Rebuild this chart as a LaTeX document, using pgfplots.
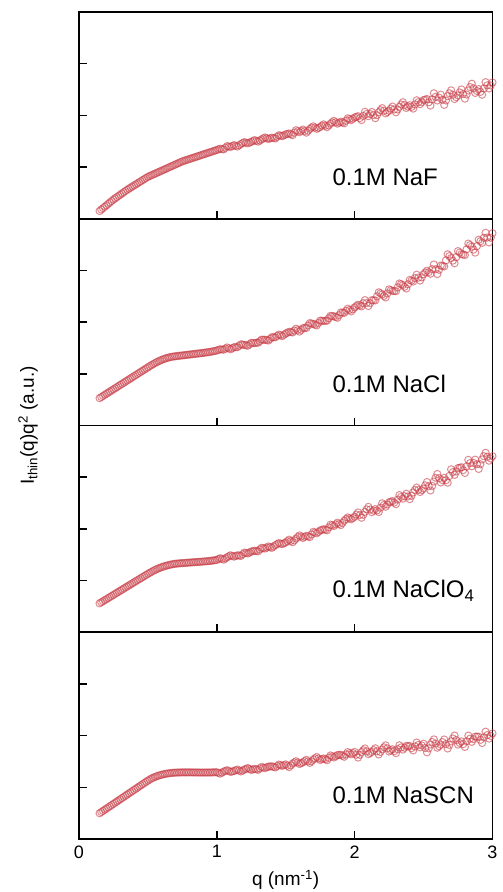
\documentclass[border=0pt]{standalone}
\usepackage{fontspec}
\setmainfont{Liberation Sans}
\usepackage{pgfplots}
\pgfplotsset{compat=1.18}
\usepgfplotslibrary{groupplots}
\usetikzlibrary{calc}

\definecolor{datared}{RGB}{200,62,72}
\pgfplotsset{scatt/.style={only marks, mark=o, mark size=3.6pt, color=datared,
    mark options={line width=1.0pt, draw opacity=0.6}}}

\begin{document}
\begin{tikzpicture}
\begin{groupplot}[
    group style={group size=1 by 4, vertical sep=0pt,
        xticklabels at=edge bottom},
    scale only axis,
    width=414pt, height=207pt,
    xmin=0, xmax=3, ymin=0, ymax=4,
    xtick={0,1,2,3}, ytick={1,2,3}, yticklabels={},
    xtick pos=bottom, ytick pos=left, tick align=inside,
    major tick length=8pt,
    axis line style={line width=1.6pt},
    every tick/.style={line width=1.5pt, black},
    /pgf/number format/assume math mode=true,
    ticklabel style={font=\fontsize{18}{20}\selectfont},
    xticklabel style={yshift=-3pt},
]

% 0.1M NaF
\nextgroupplot
\addplot[scatt] coordinates {
(0.150,0.150) (0.175,0.205) (0.200,0.260) (0.225,0.315) (0.250,0.370)
(0.275,0.418) (0.300,0.465) (0.325,0.513) (0.350,0.560) (0.375,0.602)
(0.400,0.643) (0.425,0.685) (0.450,0.727) (0.475,0.768) (0.500,0.810)
(0.525,0.840) (0.550,0.870) (0.575,0.900) (0.600,0.930) (0.625,0.960)
(0.650,0.990) (0.675,1.020) (0.700,1.050) (0.725,1.080) (0.750,1.110)
(0.775,1.132) (0.800,1.154) (0.825,1.176) (0.850,1.198) (0.875,1.220)
(0.900,1.242) (0.925,1.264) (0.950,1.286) (0.975,1.308) (1.000,1.330)
(1.025,1.355) (1.050,1.341) (1.075,1.405) (1.100,1.388) (1.125,1.425)
(1.150,1.396) (1.175,1.445) (1.200,1.482) (1.225,1.459) (1.250,1.487)
(1.275,1.521) (1.300,1.492) (1.325,1.535) (1.350,1.572) (1.375,1.543)
(1.400,1.568) (1.425,1.554) (1.450,1.615) (1.475,1.598) (1.500,1.632)
(1.525,1.651) (1.550,1.617) (1.575,1.713) (1.600,1.674) (1.625,1.725)
(1.650,1.666) (1.675,1.737) (1.700,1.788) (1.725,1.739) (1.750,1.775)
(1.775,1.826) (1.800,1.772) (1.825,1.838) (1.850,1.894) (1.875,1.840)
(1.900,1.876) (1.925,1.847) (1.950,1.943) (1.975,1.909) (2.000,1.960)
(2.025,1.983) (2.050,1.909) (2.075,2.069) (2.100,1.986) (2.125,2.065)
(2.150,1.946) (2.175,2.061) (2.200,2.140) (2.225,2.039) (2.250,2.091)
(2.275,2.170) (2.300,2.060) (2.325,2.166) (2.350,2.254) (2.375,2.144)
(2.400,2.196) (2.425,2.131) (2.450,2.291) (2.475,2.217) (2.500,2.296)
(2.525,2.316) (2.550,2.190) (2.575,2.428) (2.600,2.288) (2.625,2.400)
(2.650,2.204) (2.675,2.372) (2.700,2.484) (2.725,2.316) (2.750,2.386)
(2.775,2.502) (2.800,2.324) (2.825,2.482) (2.850,2.612) (2.875,2.434)
(2.900,2.508) (2.925,2.400) (2.950,2.642) (2.975,2.520) (3.000,2.636)
};
\addplot[scatt] coordinates {
(0.1625,0.178) (0.1875,0.233) (0.2125,0.288) (0.2375,0.343) (0.2625,0.394)
(0.2875,0.442) (0.3125,0.489) (0.3375,0.537) (0.3625,0.581) (0.3875,0.623)
(0.4125,0.664) (0.4375,0.706) (0.4625,0.748) (0.4875,0.789) (0.5125,0.825)
(0.5375,0.855) (0.5625,0.885) (0.5875,0.915) (0.6125,0.945) (0.6375,0.975)
(0.6625,1.005) (0.6875,1.035) (0.7125,1.065) (0.7375,1.095) (0.7625,1.121)
(0.7875,1.143) (0.8125,1.165) (0.8375,1.187) (0.8625,1.209) (0.8875,1.231)
(0.9125,1.253) (0.9375,1.275) (0.9625,1.297) (0.9875,1.319)
(1.0125,1.343) (1.0375,1.348) (1.0625,1.373) (1.0875,1.397) (1.1125,1.407)
(1.1375,1.411) (1.1625,1.421) (1.1875,1.464) (1.2125,1.471) (1.2375,1.473)
(1.2625,1.504) (1.2875,1.507) (1.3125,1.514) (1.3375,1.554) (1.3625,1.558)
(1.3875,1.556) (1.4125,1.561) (1.4375,1.585) (1.4625,1.607) (1.4875,1.615)
(1.5125,1.642) (1.5375,1.634) (1.5625,1.665) (1.5875,1.694) (1.6125,1.700)
(1.6375,1.696) (1.6625,1.702) (1.6875,1.763) (1.7125,1.764) (1.7375,1.757)
(1.7625,1.801) (1.7875,1.799) (1.8125,1.805) (1.8375,1.866) (1.8625,1.867)
(1.8875,1.858) (1.9125,1.862) (1.9375,1.895) (1.9625,1.926) (1.9875,1.935)
(2.0125,1.972) (2.0375,1.946) (2.0625,1.989) (2.0875,2.028) (2.1125,2.026)
(2.1375,2.006) (2.1625,2.004) (2.1875,2.101) (2.2125,2.090) (2.2375,2.065)
(2.2625,2.131) (2.2875,2.115) (2.3125,2.113) (2.3375,2.210) (2.3625,2.199)
(2.3875,2.170) (2.4125,2.164) (2.4375,2.211) (2.4625,2.254) (2.4875,2.257)
(2.5125,2.306) (2.5375,2.253) (2.5625,2.309) (2.5875,2.358) (2.6125,2.344)
(2.6375,2.302) (2.6625,2.288) (2.6875,2.428) (2.7125,2.400) (2.7375,2.351)
(2.7625,2.444) (2.7875,2.413) (2.8125,2.403) (2.8375,2.547) (2.8625,2.523)
(2.8875,2.471) (2.9125,2.454) (2.9375,2.521) (2.9625,2.581) (2.9875,2.578)
};
\node[anchor=west, font=\fontsize{24}{27}\selectfont] at (rel axis cs:0.605,0.20) {0.1M NaF};

% 0.1M NaCl
\nextgroupplot
\addplot[scatt] coordinates {
(0.150,0.530) (0.175,0.572) (0.200,0.615) (0.225,0.657) (0.250,0.700)
(0.275,0.742) (0.300,0.785) (0.325,0.827) (0.350,0.870) (0.375,0.912)
(0.400,0.955) (0.425,0.997) (0.450,1.040) (0.475,1.082) (0.500,1.125)
(0.525,1.167) (0.550,1.205) (0.575,1.240) (0.600,1.270) (0.625,1.295)
(0.650,1.315) (0.675,1.330) (0.700,1.340) (0.725,1.348) (0.750,1.356)
(0.775,1.364) (0.800,1.372) (0.825,1.380) (0.850,1.388) (0.875,1.396)
(0.900,1.404) (0.925,1.414) (0.950,1.424) (0.975,1.436) (1.000,1.450)
(1.025,1.475) (1.050,1.467) (1.075,1.510) (1.100,1.475) (1.125,1.515)
(1.150,1.516) (1.175,1.571) (1.200,1.560) (1.225,1.543) (1.250,1.598)
(1.275,1.596) (1.300,1.603) (1.325,1.661) (1.350,1.659) (1.375,1.645)
(1.400,1.709) (1.425,1.707) (1.450,1.759) (1.475,1.730) (1.500,1.779)
(1.525,1.813) (1.550,1.801) (1.575,1.874) (1.600,1.817) (1.625,1.885)
(1.650,1.888) (1.675,1.981) (1.700,1.964) (1.725,1.937) (1.750,2.030)
(1.775,2.022) (1.800,2.029) (1.825,2.121) (1.850,2.113) (1.875,2.085)
(1.900,2.187) (1.925,2.179) (1.950,2.261) (1.975,2.208) (2.000,2.285)
(2.025,2.337) (2.050,2.305) (2.075,2.426) (2.100,2.313) (2.125,2.425)
(2.150,2.420) (2.175,2.577) (2.200,2.536) (2.225,2.477) (2.250,2.634)
(2.275,2.603) (2.300,2.599) (2.325,2.748) (2.350,2.717) (2.375,2.650)
(2.400,2.817) (2.425,2.786) (2.450,2.917) (2.475,2.805) (2.500,2.927)
(2.525,2.995) (2.550,2.936) (2.575,3.115) (2.600,2.930) (2.625,3.095)
(2.650,3.078) (2.675,3.313) (2.700,3.240) (2.725,3.139) (2.750,3.374)
(2.775,3.315) (2.800,3.298) (2.825,3.519) (2.850,3.460) (2.875,3.345)
(2.900,3.594) (2.925,3.535) (2.950,3.728) (2.975,3.543) (3.000,3.722)
};
\addplot[scatt] coordinates {
(0.1625,0.551) (0.1875,0.594) (0.2125,0.636) (0.2375,0.679) (0.2625,0.721)
(0.2875,0.764) (0.3125,0.806) (0.3375,0.849) (0.3625,0.891) (0.3875,0.934)
(0.4125,0.976) (0.4375,1.019) (0.4625,1.061) (0.4875,1.104) (0.5125,1.146)
(0.5375,1.186) (0.5625,1.223) (0.5875,1.255) (0.6125,1.283) (0.6375,1.305)
(0.6625,1.323) (0.6875,1.335) (0.7125,1.344) (0.7375,1.352) (0.7625,1.360)
(0.7875,1.368) (0.8125,1.376) (0.8375,1.384) (0.8625,1.392) (0.8875,1.400)
(0.9125,1.409) (0.9375,1.419) (0.9625,1.430) (0.9875,1.443)
(1.0125,1.463) (1.0375,1.471) (1.0625,1.489) (1.0875,1.493) (1.1125,1.495)
(1.1375,1.516) (1.1625,1.544) (1.1875,1.566) (1.2125,1.552) (1.2375,1.571)
(1.2625,1.597) (1.2875,1.600) (1.3125,1.632) (1.3375,1.660) (1.3625,1.652)
(1.3875,1.677) (1.4125,1.708) (1.4375,1.733) (1.4625,1.745) (1.4875,1.755)
(1.5125,1.796) (1.5375,1.807) (1.5625,1.838) (1.5875,1.846) (1.6125,1.851)
(1.6375,1.887) (1.6625,1.935) (1.6875,1.973) (1.7125,1.951) (1.7375,1.984)
(1.7625,2.026) (1.7875,2.026) (1.8125,2.075) (1.8375,2.117) (1.8625,2.099)
(1.8875,2.136) (1.9125,2.183) (1.9375,2.220) (1.9625,2.235) (1.9875,2.247)
(2.0125,2.311) (2.0375,2.321) (2.0625,2.366) (2.0875,2.370) (2.1125,2.369)
(2.1375,2.423) (2.1625,2.499) (2.1875,2.557) (2.2125,2.507) (2.2375,2.556)
(2.2625,2.619) (2.2875,2.601) (2.3125,2.674) (2.3375,2.733) (2.3625,2.684)
(2.3875,2.734) (2.4125,2.802) (2.4375,2.852) (2.4625,2.861) (2.4875,2.866)
(2.5125,2.961) (2.5375,2.966) (2.5625,3.026) (2.5875,3.023) (2.6125,3.013)
(2.6375,3.087) (2.6625,3.196) (2.6875,3.277) (2.7125,3.190) (2.7375,3.257)
(2.7625,3.345) (2.7875,3.307) (2.8125,3.409) (2.8375,3.490) (2.8625,3.403)
(2.8875,3.470) (2.9125,3.565) (2.9375,3.632) (2.9625,3.636) (2.9875,3.633)
};
\node[anchor=west, font=\fontsize{24}{27}\selectfont] at (rel axis cs:0.605,0.20) {0.1M NaCl};

% 0.1M NaClO4
\nextgroupplot
\addplot[scatt] coordinates {
(0.150,0.560) (0.175,0.601) (0.200,0.641) (0.225,0.682) (0.250,0.723)
(0.275,0.764) (0.300,0.804) (0.325,0.845) (0.350,0.886) (0.375,0.926)
(0.400,0.967) (0.425,1.008) (0.450,1.048) (0.475,1.089) (0.500,1.130)
(0.525,1.168) (0.550,1.203) (0.575,1.234) (0.600,1.260) (0.625,1.282)
(0.650,1.300) (0.675,1.315) (0.700,1.326) (0.725,1.333) (0.750,1.338)
(0.775,1.343) (0.800,1.348) (0.825,1.353) (0.850,1.358) (0.875,1.363)
(0.900,1.368) (0.925,1.374) (0.950,1.380) (0.975,1.390) (1.000,1.400)
(1.025,1.433) (1.050,1.406) (1.075,1.451) (1.100,1.490) (1.125,1.463)
(1.150,1.490) (1.175,1.478) (1.200,1.541) (1.225,1.526) (1.250,1.562)
(1.275,1.578) (1.300,1.567) (1.325,1.634) (1.350,1.620) (1.375,1.660)
(1.400,1.634) (1.425,1.686) (1.450,1.726) (1.475,1.706) (1.500,1.737)
(1.525,1.791) (1.550,1.742) (1.575,1.813) (1.600,1.874) (1.625,1.825)
(1.650,1.866) (1.675,1.842) (1.700,1.943) (1.725,1.914) (1.750,1.970)
(1.775,1.994) (1.800,1.973) (1.825,2.082) (1.850,2.056) (1.875,2.120)
(1.900,2.074) (1.925,2.158) (1.950,2.222) (1.975,2.186) (2.000,2.235)
(2.025,2.318) (2.050,2.216) (2.075,2.330) (2.100,2.426) (2.125,2.324)
(2.150,2.384) (2.175,2.327) (2.200,2.495) (2.225,2.429) (2.250,2.516)
(2.275,2.538) (2.300,2.479) (2.325,2.654) (2.350,2.586) (2.375,2.680)
(2.400,2.576) (2.425,2.706) (2.450,2.800) (2.475,2.714) (2.500,2.781)
(2.525,2.907) (2.550,2.744) (2.575,2.917) (2.600,3.062) (2.625,2.899)
(2.650,2.988) (2.675,2.895) (2.700,3.152) (2.725,3.045) (2.750,3.176)
(2.775,3.192) (2.800,3.082) (2.825,3.336) (2.850,3.212) (2.875,3.340)
(2.900,3.160) (2.925,3.344) (2.950,3.472) (2.975,3.320) (3.000,3.406)
};
\addplot[scatt] coordinates {
(0.1625,0.581) (0.1875,0.621) (0.2125,0.662) (0.2375,0.703) (0.2625,0.744)
(0.2875,0.784) (0.3125,0.825) (0.3375,0.866) (0.3625,0.906) (0.3875,0.947)
(0.4125,0.988) (0.4375,1.028) (0.4625,1.069) (0.4875,1.110) (0.5125,1.149)
(0.5375,1.186) (0.5625,1.219) (0.5875,1.247) (0.6125,1.271) (0.6375,1.291)
(0.6625,1.308) (0.6875,1.321) (0.7125,1.330) (0.7375,1.336) (0.7625,1.341)
(0.7875,1.346) (0.8125,1.351) (0.8375,1.356) (0.8625,1.361) (0.8875,1.366)
(0.9125,1.371) (0.9375,1.377) (0.9625,1.385) (0.9875,1.395)
(1.0125,1.417) (1.0375,1.420) (1.0625,1.429) (1.0875,1.471) (1.1125,1.477)
(1.1375,1.477) (1.1625,1.484) (1.1875,1.510) (1.2125,1.534) (1.2375,1.544)
(1.2625,1.570) (1.2875,1.573) (1.3125,1.601) (1.3375,1.627) (1.3625,1.640)
(1.3875,1.647) (1.4125,1.660) (1.4375,1.706) (1.4625,1.716) (1.4875,1.722)
(1.5125,1.764) (1.5375,1.767) (1.5625,1.778) (1.5875,1.844) (1.6125,1.850)
(1.6375,1.846) (1.6625,1.854) (1.6875,1.893) (1.7125,1.929) (1.7375,1.942)
(1.7625,1.982) (1.7875,1.984) (1.8125,2.028) (1.8375,2.069) (1.8625,2.088)
(1.8875,2.097) (1.9125,2.116) (1.9375,2.190) (1.9625,2.204) (1.9875,2.211)
(2.0125,2.277) (2.0375,2.267) (2.0625,2.273) (2.0875,2.378) (2.1125,2.375)
(2.1375,2.354) (2.1625,2.356) (2.1875,2.411) (2.2125,2.462) (2.2375,2.473)
(2.2625,2.527) (2.2875,2.509) (2.3125,2.567) (2.3375,2.620) (2.3625,2.633)
(2.3875,2.628) (2.4125,2.641) (2.4375,2.753) (2.4625,2.757) (2.4875,2.748)
(2.5125,2.844) (2.5375,2.826) (2.5625,2.831) (2.5875,2.990) (2.6125,2.981)
(2.6375,2.944) (2.6625,2.942) (2.6875,3.024) (2.7125,3.099) (2.7375,3.111)
(2.7625,3.184) (2.7875,3.137) (2.8125,3.209) (2.8375,3.274) (2.8625,3.276)
(2.8875,3.250) (2.9125,3.252) (2.9375,3.408) (2.9625,3.396) (2.9875,3.363)
};
\node[anchor=west, font=\fontsize{24}{27}\selectfont] at (rel axis cs:0.605,0.20) {0.1M NaClO\textsubscript{4}};

% 0.1M NaSCN
\nextgroupplot[xlabel={q (nm\textsuperscript{-1})},
    xlabel style={font=\fontsize{19}{21}\selectfont, at={(axis description cs:0.5,0)},
        anchor=north, inner sep=0pt, yshift=-31pt}]
\addplot[scatt] coordinates {
(0.150,0.500) (0.175,0.545) (0.200,0.590) (0.225,0.635) (0.250,0.680)
(0.275,0.725) (0.300,0.770) (0.325,0.815) (0.350,0.860) (0.375,0.905)
(0.400,0.950) (0.425,0.995) (0.450,1.040) (0.475,1.085) (0.500,1.130)
(0.525,1.170) (0.550,1.200) (0.575,1.225) (0.600,1.245) (0.625,1.260)
(0.650,1.272) (0.675,1.280) (0.700,1.285) (0.725,1.288) (0.750,1.290)
(0.775,1.290) (0.800,1.290) (0.825,1.289) (0.850,1.288) (0.875,1.287)
(0.900,1.287) (0.925,1.287) (0.950,1.288) (0.975,1.290) (1.000,1.293)
(1.025,1.266) (1.050,1.305) (1.075,1.332) (1.100,1.299) (1.125,1.317)
(1.150,1.344) (1.175,1.308) (1.200,1.344) (1.225,1.374) (1.250,1.338)
(1.275,1.358) (1.300,1.339) (1.325,1.395) (1.350,1.373) (1.375,1.402)
(1.400,1.407) (1.425,1.385) (1.450,1.441) (1.475,1.416) (1.500,1.445)
(1.525,1.392) (1.550,1.459) (1.575,1.506) (1.600,1.453) (1.625,1.485)
(1.650,1.532) (1.675,1.474) (1.700,1.536) (1.725,1.588) (1.750,1.530)
(1.775,1.561) (1.800,1.527) (1.825,1.618) (1.850,1.579) (1.875,1.625)
(1.900,1.631) (1.925,1.592) (1.950,1.683) (1.975,1.639) (2.000,1.685)
(2.025,1.577) (2.050,1.683) (2.075,1.753) (2.100,1.643) (2.125,1.686)
(2.150,1.756) (2.175,1.637) (2.200,1.734) (2.225,1.813) (2.250,1.694)
(2.275,1.737) (2.300,1.663) (2.325,1.814) (2.350,1.731) (2.375,1.801)
(2.400,1.799) (2.425,1.716) (2.450,1.867) (2.475,1.775) (2.500,1.845)
(2.525,1.678) (2.550,1.829) (2.575,1.928) (2.600,1.767) (2.625,1.827)
(2.650,1.926) (2.675,1.752) (2.700,1.890) (2.725,2.002) (2.750,1.828)
(2.775,1.890) (2.800,1.783) (2.825,2.001) (2.850,1.881) (2.875,1.982)
(2.900,1.979) (2.925,1.859) (2.950,2.077) (2.975,1.944) (3.000,2.045)
};
\addplot[scatt] coordinates {
(0.1625,0.523) (0.1875,0.568) (0.2125,0.613) (0.2375,0.658) (0.2625,0.703)
(0.2875,0.748) (0.3125,0.793) (0.3375,0.838) (0.3625,0.883) (0.3875,0.928)
(0.4125,0.973) (0.4375,1.018) (0.4625,1.063) (0.4875,1.108) (0.5125,1.150)
(0.5375,1.185) (0.5625,1.213) (0.5875,1.235) (0.6125,1.253) (0.6375,1.266)
(0.6625,1.276) (0.6875,1.283) (0.7125,1.287) (0.7375,1.289) (0.7625,1.290)
(0.7875,1.290) (0.8125,1.290) (0.8375,1.289) (0.8625,1.288) (0.8875,1.287)
(0.9125,1.287) (0.9375,1.288) (0.9625,1.289) (0.9875,1.292)
(1.0125,1.280) (1.0375,1.286) (1.0625,1.319) (1.0875,1.316) (1.1125,1.308)
(1.1375,1.331) (1.1625,1.326) (1.1875,1.326) (1.2125,1.359) (1.2375,1.356)
(1.2625,1.348) (1.2875,1.349) (1.3125,1.367) (1.3375,1.384) (1.3625,1.388)
(1.3875,1.405) (1.4125,1.396) (1.4375,1.413) (1.4625,1.429) (1.4875,1.431)
(1.5125,1.419) (1.5375,1.426) (1.5625,1.483) (1.5875,1.480) (1.6125,1.469)
(1.6375,1.509) (1.6625,1.503) (1.6875,1.505) (1.7125,1.562) (1.7375,1.559)
(1.7625,1.546) (1.7875,1.544) (1.8125,1.573) (1.8375,1.599) (1.8625,1.602)
(1.8875,1.628) (1.9125,1.612) (1.9375,1.638) (1.9625,1.661) (1.9875,1.662)
(2.0125,1.631) (2.0375,1.630) (2.0625,1.718) (2.0875,1.698) (2.1125,1.665)
(2.1375,1.721) (2.1625,1.697) (2.1875,1.686) (2.2125,1.774) (2.2375,1.754)
(2.2625,1.716) (2.2875,1.700) (2.3125,1.739) (2.3375,1.773) (2.3625,1.766)
(2.3875,1.800) (2.4125,1.758) (2.4375,1.792) (2.4625,1.821) (2.4875,1.810)
(2.5125,1.762) (2.5375,1.754) (2.5625,1.879) (2.5875,1.848) (2.6125,1.797)
(2.6375,1.877) (2.6625,1.839) (2.6875,1.821) (2.7125,1.946) (2.7375,1.915)
(2.7625,1.859) (2.7875,1.837) (2.8125,1.892) (2.8375,1.941) (2.8625,1.932)
(2.8875,1.981) (2.9125,1.919) (2.9375,1.968) (2.9625,2.011) (2.9875,1.995)
};
\node[anchor=west, font=\fontsize{24}{27}\selectfont] at (rel axis cs:0.605,0.21) {0.1M NaSCN};

\end{groupplot}
\node[rotate=90, font=\fontsize{19}{21}\selectfont]
    at ($(group c1r2.south west)+(-51pt,0)$) {I\textsubscript{thin}(q)q\textsuperscript{2} (a.u.)};
\path ($(group c1r1.north west)+(-79pt,12pt)$) rectangle ($(group c1r4.south east)+(10pt,-53pt)$);
\end{tikzpicture}
\end{document}
